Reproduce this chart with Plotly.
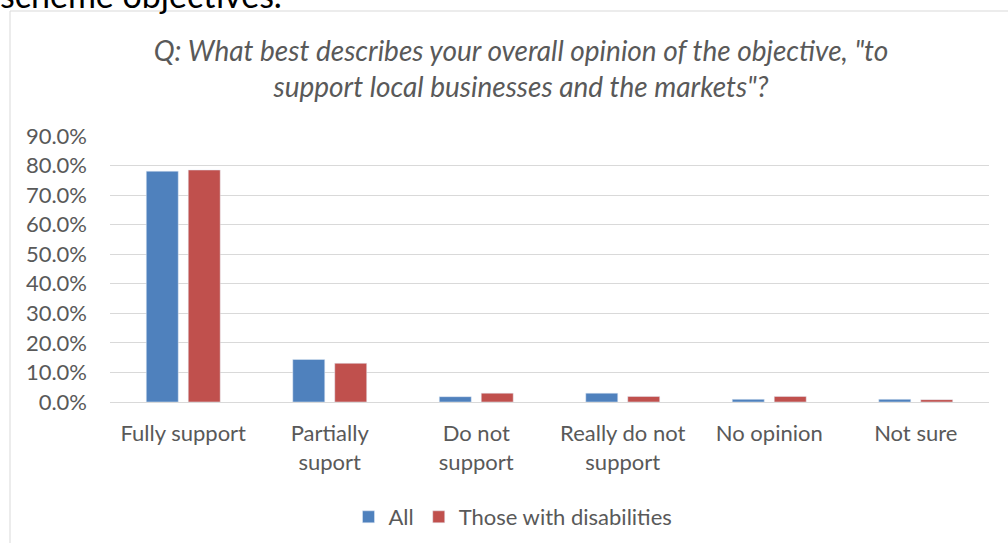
import plotly.graph_objects as go

categories = ["Fully support", "Partially<br>suport", "Do not<br>support",
              "Really do not<br>support", "No opinion", "Not sure"]
all_values = [78.1, 14.4, 1.8, 3.0, 0.9, 0.9]
disab_values = [78.5, 13.1, 3.0, 1.9, 1.9, 0.8]
series_names = ["All", "Those with disabilities"]
title_text = ('Q: What best describes your overall opinion of the objective, "to<br>'
              'support local businesses and the markets"?')

FONT = "Lato"
GRAY = "#595959"
W, H = 1008, 543
L, R, T, B = 110, 19, 136, 141
PW, PH = W - L - R, H - T - B

def px_x(p):
    return (p - L) / PW

def px_y(p):
    return (H - B - p) / PH

fig = go.Figure()
fig.add_trace(go.Bar(x=categories, y=all_values, name=series_names[0],
                     marker=dict(color="#4f81bd")))
fig.add_trace(go.Bar(x=categories, y=disab_values, name=series_names[1],
                     marker=dict(color="#c0504d")))

fig.update_layout(
    width=W, height=H,
    margin=dict(l=L, r=R, t=T, b=B, autoexpand=False),
    paper_bgcolor="white", plot_bgcolor="white",
    barmode="group", bargap=0.427, bargroupgap=0.238,
    font=dict(family=FONT, color=GRAY, size=22),
    title=dict(text=title_text, xref="container", yref="container",
               x=521 / W, xanchor="center", y=1 - 61 / H, yanchor="middle",
               font=dict(family=FONT, size=28, color=GRAY, style="italic")),
    legend=dict(orientation="h", x=px_x(513), xanchor="center",
                y=px_y(517), yanchor="middle", font=dict(size=22, color=GRAY),
                itemwidth=30, traceorder="normal"),
    showlegend=True,
)
fig.update_yaxes(range=[0, 90], dtick=10, tickformat=".1f", ticksuffix="%",
                 showgrid=True, gridcolor="#d9d9d9", gridwidth=1,
                 zeroline=True, zerolinecolor="#d9d9d9", zerolinewidth=1,
                 showline=False, ticks="", ticklabelstandoff=22,
                 tickfont=dict(size=22, color=GRAY), fixedrange=True,
                 automargin=False)
fig.update_xaxes(showline=False, ticks="", tickfont=dict(size=22, color=GRAY),
                 ticklabelstandoff=16, fixedrange=True, automargin=False)

# chart border
fig.add_shape(type="rect", xref="paper", yref="paper",
              x0=px_x(10), x1=px_x(1030), y0=px_y(560), y1=px_y(11),
              line=dict(color="#d9d9d9", width=1), fillcolor="rgba(0,0,0,0)",
              layer="below")

# cropped document text above the chart
fig.add_annotation(text="scheme objectives.", xref="paper", yref="paper",
                   x=px_x(-2), xanchor="left", y=px_y(17), yanchor="bottom",
                   showarrow=False, font=dict(family=FONT, size=34, color="black"))

fig.write_html("out.html")
